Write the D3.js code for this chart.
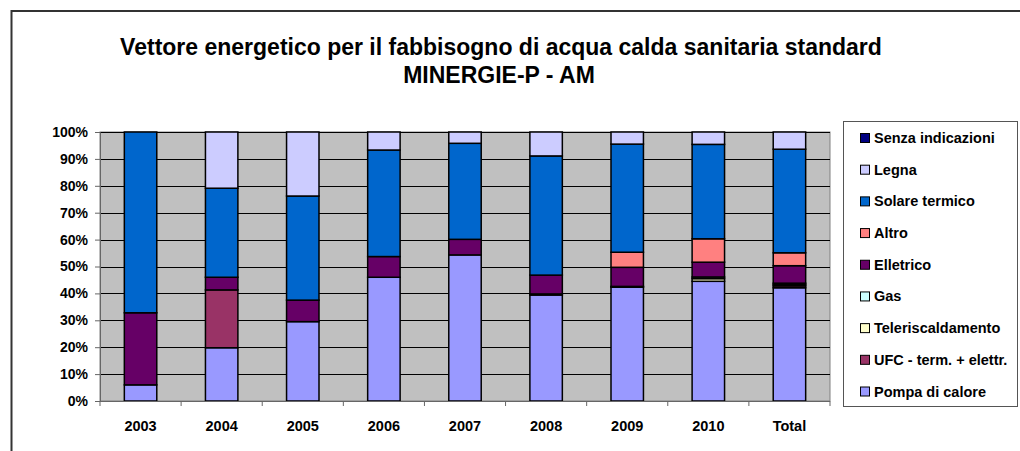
<!DOCTYPE html>
<html>
<head>
<meta charset="utf-8">
<title>Vettore energetico MINERGIE-P - AM</title>
<script src="https://cdn.jsdelivr.net/npm/d3@7"></script>
<style>
  body { margin: 0; background: #fff; }
  text { font-family: Arial, "Liberation Sans", sans-serif; font-weight: bold; }
</style>
</head>
<body>
<div id="chart"></div>
<script>
// categories and series, bottom of stack first (percent)
const years = ["2003", "2004", "2005", "2006", "2007", "2008", "2009", "2010", "Total"];
const series = ["Pompa di calore", "UFC - term. + elettr.", "Teleriscaldamento", "Gas",
  "Elletrico", "Altro", "Solare termico", "Legna", "Senza indicazioni"];
const colors = ["#9999FF", "#993366", "#FFFFCC", "#CCFFFF", "#660066", "#FF8080", "#0066CC", "#CCCCFF", "#000080"];

const pompa     = [6.0, 19.8, 29.5, 46.0, 54.3, 39.4, 42.3, 44.5, 42.1];
const ufc       = [0,   21.5, 0,    0,    0,    0.4,  0.3,  0,    0.7];
const teleris   = [0,   0,    0,    0,    0,    0,    0,    1.0,  0.5];
const gas       = [0,   0,    0,    0,    0,    0,    0,    0.6,  0.5];
const elletrico = [26.8, 4.7, 8.0,  7.7,  5.8,  7.0,  7.1,  5.5,  6.5];
const altro     = [0,   0,    0,    0,    0,    0,    5.6,  8.7,  4.8];
const solare    = [67.2, 33.1, 38.7, 39.6, 35.7, 44.3, 40.2, 35.1, 38.5];
const legna     = [0,   20.9, 23.8, 6.7,  4.2,  8.9,  4.5,  4.6,  6.4];
const senza     = [0,   0,    0,    0,    0,    0,    0,    0,    0];

const yTicks = [0, 10, 20, 30, 40, 50, 60, 70, 80, 90, 100];

const values = [pompa, ufc, teleris, gas, elletrico, altro, solare, legna, senza];
const table = years.map((y, i) => {
  const row = { year: y };
  series.forEach((s, k) => { row[s] = values[k][i]; });
  return row;
});

const W = 1020, H = 451;
const plot = { left: 100, right: 830, top: 132, bottom: 401 };

const svg = d3.select("#chart").append("svg")
  .attr("width", W).attr("height", H);

// chart frame
svg.append("rect")
  .attr("x", 11.5).attr("y", 11).attr("width", W + 20).attr("height", H + 20)
  .attr("fill", "#fff").attr("stroke", "#333").attr("stroke-width", 2);

// title
svg.append("text").attr("x", 501).attr("y", 55).attr("text-anchor", "middle")
  .style("font-size", "23px").text("Vettore energetico per il fabbisogno di acqua calda sanitaria standard");
svg.append("text").attr("x", 499).attr("y", 83).attr("text-anchor", "middle")
  .style("font-size", "23px").text("MINERGIE-P - AM");

const x = d3.scaleBand().domain(years).range([plot.left, plot.right]).paddingInner(0.6).paddingOuter(0.3);
const y = d3.scaleLinear().domain([0, 100]).range([plot.bottom, plot.top]);

// plot background
svg.append("rect")
  .attr("x", plot.left).attr("y", plot.top)
  .attr("width", plot.right - plot.left).attr("height", plot.bottom - plot.top)
  .attr("fill", "#C0C0C0").attr("stroke", "#808080");

// gridlines
svg.append("g").selectAll("line").data(yTicks.slice(1)).join("line")
  .attr("x1", plot.left).attr("x2", plot.right)
  .attr("y1", d => Math.round(y(d)) + 0.5).attr("y2", d => Math.round(y(d)) + 0.5)
  .attr("stroke", "#000").attr("stroke-width", 1);

// stacked bars
const stacked = d3.stack().keys(series)(table);
svg.append("g").selectAll("g").data(stacked).join("g")
  .attr("fill", (d, i) => colors[i])
  .selectAll("rect").data(d => d.filter(p => p[1] - p[0] > 0)).join("rect")
  .attr("x", d => x(d.data.year))
  .attr("width", x.bandwidth())
  .attr("y", d => y(d[1]))
  .attr("height", d => y(d[0]) - y(d[1]))
  .attr("stroke", "#000").attr("stroke-width", 1.5);

// y axis
const yAxis = svg.append("g").attr("transform", `translate(${plot.left},0)`)
  .call(d3.axisLeft(y).tickValues(yTicks).tickFormat(d => d + "%").tickSize(5).tickPadding(7));
yAxis.select(".domain").attr("stroke", "#666");
yAxis.selectAll(".tick line").attr("stroke", "#666");
yAxis.selectAll("text").style("font-size", "14px").attr("fill", "#000");

// x axis with ticks between categories
const xAxis = svg.append("g");
xAxis.append("line").attr("x1", plot.left).attr("x2", plot.right)
  .attr("y1", plot.bottom + 0.5).attr("y2", plot.bottom + 0.5).attr("stroke", "#666");
xAxis.selectAll("line.tk").data(d3.range(years.length + 1)).join("line").attr("class", "tk")
  .attr("x1", i => plot.left + i * (plot.right - plot.left) / years.length)
  .attr("x2", i => plot.left + i * (plot.right - plot.left) / years.length)
  .attr("y1", plot.bottom).attr("y2", plot.bottom + 5).attr("stroke", "#666");
xAxis.selectAll("text").data(years).join("text")
  .attr("x", d => x(d) + x.bandwidth() / 2).attr("y", 431)
  .attr("text-anchor", "middle").style("font-size", "14.5px").text(d => d);

// legend (top entry = last series)
const legend = svg.append("g");
legend.append("rect").attr("x", 843.5).attr("y", 121.5).attr("width", 174).attr("height", 285)
  .attr("fill", "#fff").attr("stroke", "#555");
const legendItems = series.map((s, i) => ({ name: s, color: colors[i] })).reverse();
const ly = d3.scalePoint().domain(legendItems.map(d => d.name)).range([138, 391.5]);
const li = legend.selectAll("g").data(legendItems).join("g")
  .attr("transform", d => `translate(0,${ly(d.name)})`);
li.append("rect").attr("x", 860.5).attr("y", -4.5).attr("width", 9).attr("height", 9)
  .attr("fill", d => d.color).attr("stroke", "#000");
li.append("text").attr("x", 874).attr("y", 5).style("font-size", "14.5px").text(d => d.name);
</script>
</body>
</html>
